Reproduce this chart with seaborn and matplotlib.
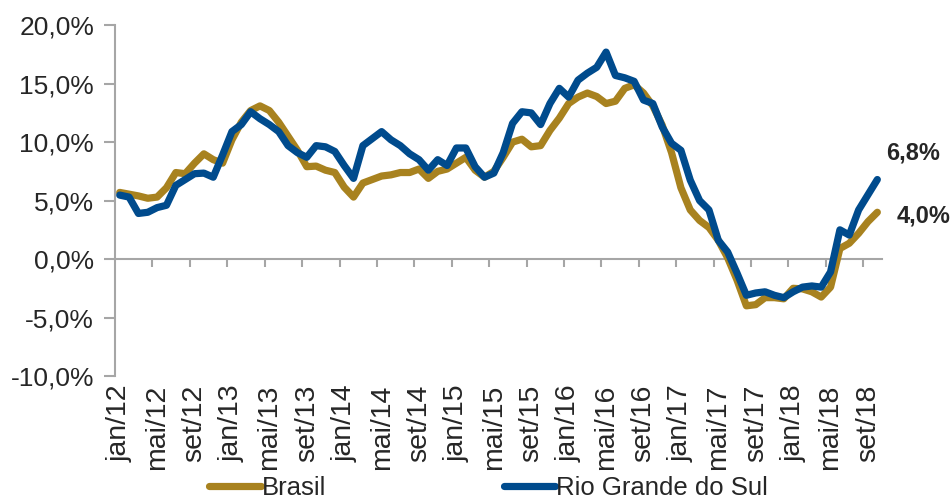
import numpy as np
import pandas as pd
import matplotlib
matplotlib.use("Agg")
import matplotlib.pyplot as plt
import matplotlib.ticker as mticker
import seaborn as sns

# monthly series, jan/12 .. out/18 (% change, 12-month)
months_pt = ['jan', 'fev', 'mar', 'abr', 'mai', 'jun',
             'jul', 'ago', 'set', 'out', 'nov', 'dez']
years = [12, 13, 14, 15, 16, 17, 18]

brasil = [5.7, 5.55, 5.4, 5.2, 5.3, 6.1, 7.4, 7.3, 8.2, 9.0, 8.5, 8.2,
          10.2, 11.7, 12.7, 13.1, 12.7, 11.7, 10.5, 9.3, 7.9, 7.95, 7.6, 7.4,
          6.15, 5.3, 6.5, 6.8, 7.1, 7.2, 7.4, 7.4, 7.7, 6.9, 7.5, 7.7,
          8.2, 8.7, 7.6, 7.0, 7.5, 8.7, 10.0, 10.25, 9.6, 9.7, 11.0, 12.05,
          13.3, 13.85, 14.2, 13.9, 13.3, 13.5, 14.6, 14.9, 14.2, 13.1, 11.45, 9.1,
          6.1, 4.2, 3.3, 2.7, 1.6, 0.1, -1.8, -4.0, -3.9, -3.3, -3.3, -3.4,
          -2.5, -2.55, -2.8, -3.25, -2.4, 0.9, 1.35, 2.2, 3.2, 4.0]

rs = [5.47, 5.3, 3.9, 4.0, 4.4, 4.6, 6.3, 6.8, 7.3, 7.35, 7.0, 8.9,
      10.9, 11.5, 12.6, 12.0, 11.5, 10.9, 9.7, 9.1, 8.7, 9.7, 9.6, 9.2,
      8.0, 6.9, 9.7, 10.3, 10.9, 10.2, 9.7, 9.0, 8.5, 7.6, 8.5, 8.0,
      9.5, 9.5, 7.9, 7.0, 7.35, 9.1, 11.6, 12.6, 12.5, 11.5, 13.3, 14.6,
      13.85, 15.3, 15.9, 16.4, 17.7, 15.7, 15.5, 15.2, 13.6, 13.3, 11.3, 9.9,
      9.3, 6.75, 5.0, 4.2, 1.6, 0.6, -1.2, -3.1, -2.9, -2.8, -3.1, -3.3,
      -2.8, -2.4, -2.3, -2.4, -1.1, 2.5, 2.05, 4.2, 5.5, 6.8]

labels = [f"{m}/{y}" for y in years for m in months_pt][:len(brasil)]

gold = "#A8821F"
blue = "#004B8D"
grey = "#A6A6A6"

sns.set_style("white")
plt.rcParams['font.family'] = ['Liberation Sans', 'DejaVu Sans']

df = pd.DataFrame({'idx': np.arange(len(brasil)), 'Brasil': brasil,
                   'Rio Grande do Sul': rs})

fig = plt.figure(figsize=(9.53, 5.04), dpi=100)
ax = fig.add_axes([0.1207, 0.254, 0.8048, 0.696])

line_kw = dict(linewidth=5.2, solid_joinstyle='round', solid_capstyle='round')
sns.lineplot(data=df, x='idx', y='Brasil', color=gold, label='Brasil', ax=ax, **line_kw)
sns.lineplot(data=df, x='idx', y='Rio Grande do Sul', color=blue,
             label='Rio Grande do Sul', ax=ax, **line_kw)

ax.set_xlim(-0.5, len(brasil) - 0.5)
ax.set_ylim(-10, 20)
ax.set_yticks(np.arange(-10, 21, 5))
ax.yaxis.set_major_formatter(mticker.FuncFormatter(lambda v, p: f"{v:.1f}%".replace('.', ',')))
ax.set_xticks(np.arange(0, len(brasil), 4))
ax.set_xticklabels(labels[::4], rotation=90)
ax.set_xlabel('')
ax.set_ylabel('')

for s in ['top', 'right', 'bottom']:
    ax.spines[s].set_visible(False)
ax.spines['left'].set_color(grey)
ax.spines['left'].set_linewidth(1.5)
ax.tick_params(axis='y', direction='out', length=8, width=1.5, color=grey,
               labelsize=19, pad=7, left=True)
ax.tick_params(axis='x', length=0, labelsize=20.5, pad=6)

# category axis crossing at zero
sec = ax.secondary_xaxis(1 / 3)
sec.set_xticks(np.arange(3.5, len(brasil) - 1, 4))
sec.tick_params(axis='x', direction='out', length=6, width=1.5, color=grey,
                labelbottom=False, labeltop=False)
sec.spines['bottom'].set_visible(True)
sec.spines['bottom'].set_color(grey)
sec.spines['bottom'].set_linewidth(1.5)

# end labels
last = len(brasil) - 1
ax.annotate(f"{rs[-1]:.1f}%".replace('.', ','), (last, rs[-1]),
            xytext=(26, 19), textcoords='offset points', ha='center', va='center',
            fontsize=17, fontweight='bold')
ax.annotate(f"{brasil[-1]:.1f}%".replace('.', ','), (last, brasil[-1]),
            xytext=(33, -3), textcoords='offset points', ha='center', va='center',
            fontsize=17, fontweight='bold')

handles, lbls = ax.get_legend_handles_labels()
ax.get_legend().remove()
fig.legend(handles, lbls, loc='lower center', bbox_to_anchor=(0.513, -0.012),
           ncol=2, frameon=False, fontsize=18.5, handlelength=2.0,
           handletextpad=0.05, columnspacing=6.9, borderaxespad=0)

fig.savefig('out.png', dpi=100)
